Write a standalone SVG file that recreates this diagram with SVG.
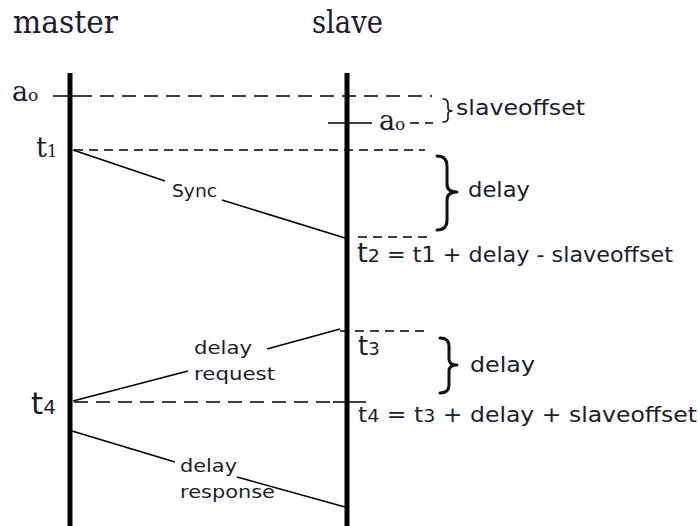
<svg xmlns="http://www.w3.org/2000/svg" width="700" height="526" viewBox="0 0 700 526">
<style>
.life{stroke:#000;stroke-width:5;fill:none}
.msg{stroke:#000;stroke-width:1.6;fill:none}
.dl{stroke:#000;stroke-width:1.6;fill:none;stroke-dasharray:14 8}
.ds{stroke:#000;stroke-width:1.6;fill:none;stroke-dasharray:9 6}
.brace{stroke:#111;stroke-width:3;fill:none;stroke-linecap:round;stroke-linejoin:round}
.hd{font-family:"DejaVu Serif","Liberation Serif",serif;font-size:31px;fill:#1c1c2e}
.ser{font-family:"DejaVu Serif","Liberation Serif",serif;fill:#1c1c2e}
.sans{font-family:"DejaVu Sans","Liberation Sans",sans-serif;fill:#1c1c2e}
.lbl{font-family:"DejaVu Sans","Liberation Sans",sans-serif;font-size:18px;fill:#1c1c2e}
</style>
<rect width="700" height="526" fill="#fff"/>
<g id="master">
  <text class="hd" x="13" y="33" textLength="105" lengthAdjust="spacingAndGlyphs">master</text>
  <line class="life" x1="70" y1="73" x2="70" y2="526"/>
  <text class="ser" x="12" y="101" font-size="27">a<tspan font-size="17">o</tspan></text>
  <text class="ser" x="36" y="157" font-size="27">t<tspan font-size="17">1</tspan></text>
  <text class="sans" x="31" y="414" font-size="31">t<tspan font-size="20">4</tspan></text>
</g>
<g id="slave">
  <text class="hd" x="312" y="33" textLength="71" lengthAdjust="spacingAndGlyphs">slave</text>
  <line class="life" x1="347" y1="73" x2="347" y2="526"/>
  <text class="ser" x="379" y="130" font-size="27">a<tspan font-size="17">o</tspan></text>
  <text class="sans" x="358" y="355" font-size="26">t<tspan font-size="18">3</tspan></text>
</g>
<g id="connectors">
  <line x1="53" y1="96" x2="92" y2="96" class="msg"/>
  <line x1="100" y1="96" x2="432" y2="96" class="dl"/>
  <line x1="328" y1="123" x2="372" y2="123" class="msg"/>
  <line x1="410" y1="123" x2="433" y2="123" class="ds"/>
  <line x1="74" y1="150" x2="425" y2="150" class="ds"/>
  <polyline class="msg" points="73,150 165,181"/>
  <polyline class="msg" points="222,200 345,238"/>
  <line x1="358" y1="237" x2="427" y2="237" class="ds"/>
  <polyline class="msg" points="73,401 188,371"/>
  <polyline class="msg" points="267,349 340,329"/>
  <line x1="340" y1="331" x2="428" y2="331" class="ds"/>
  <line x1="74" y1="402" x2="335" y2="402" class="dl"/>
  <line x1="333" y1="402" x2="366" y2="402" class="msg"/>
  <polyline class="msg" points="72,431 175,462"/>
  <polyline class="msg" points="237,477 345,507"/>
</g>
<g id="labels">
  <text class="lbl" x="172" y="197" textLength="45" lengthAdjust="spacingAndGlyphs">Sync</text>
  <text class="lbl" x="194" y="354" textLength="58" lengthAdjust="spacingAndGlyphs">delay</text>
  <text class="lbl" x="194" y="380" textLength="81" lengthAdjust="spacingAndGlyphs">request</text>
  <text class="lbl" x="180" y="472" textLength="57" lengthAdjust="spacingAndGlyphs">delay</text>
  <text class="lbl" x="180" y="498" textLength="95" lengthAdjust="spacingAndGlyphs">response</text>
</g>
<g id="annotations">
  <path class="brace" style="stroke-width:1.6" d="M443,99 Q448,99 448,104 L448,108 Q448,111 452,111 Q448,111 448,114 L448,118 Q448,122 443,122"/>
  <text class="sans" x="456" y="115" font-size="22" textLength="129" lengthAdjust="spacingAndGlyphs">slaveoffset</text>
  <path class="brace" d="M437,156 Q447,156 447,166 L447,184 Q447,192 457,192 Q447,192 447,200 L447,220 Q447,230 437,230"/>
  <text class="sans" x="468" y="197" font-size="22" textLength="62" lengthAdjust="spacingAndGlyphs">delay</text>
  <text class="sans" x="357" y="262" font-size="21" textLength="316" lengthAdjust="spacingAndGlyphs"><tspan font-size="26">t</tspan><tspan font-size="18">2</tspan> = t1 + delay - slaveoffset</text>
  <path class="brace" d="M440,338 Q449,338 449,346 L449,359 Q449,365 457,365 Q449,365 449,371 L449,385 Q449,393 440,393"/>
  <text class="sans" x="470" y="372" font-size="22" textLength="65" lengthAdjust="spacingAndGlyphs">delay</text>
  <text class="sans" x="358" y="422" font-size="21" textLength="339" lengthAdjust="spacingAndGlyphs">t<tspan font-size="17">4</tspan> = t<tspan font-size="17">3</tspan> + delay + slaveoffset</text>
</g>
</svg>
